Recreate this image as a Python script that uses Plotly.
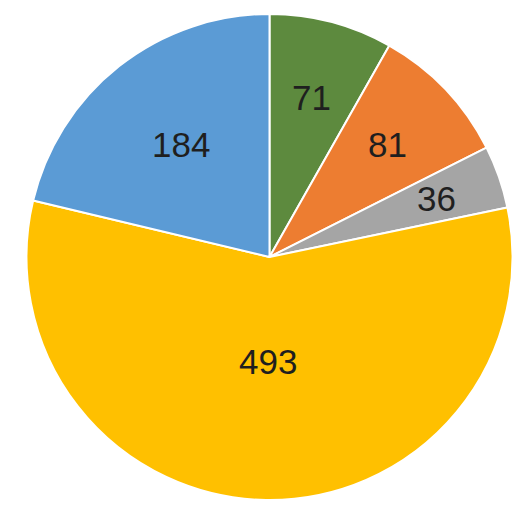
import math
import plotly.graph_objects as go

labels = ["A", "B", "C", "D", "E"]
values = [71, 81, 36, 493, 184]
colors = ["#5d8a3e", "#ed7d31", "#a5a5a5", "#ffc000", "#5b9bd5"]
# radial position of each value label, as a fraction of the pie radius
label_radius = [0.68, 0.67, 0.73, 0.43, 0.59]

W, H = 531, 515
margin = dict(l=18, r=26, t=6, b=23)

fig = go.Figure(go.Pie(
    labels=labels,
    values=values,
    sort=False,
    direction="clockwise",
    rotation=0,
    marker=dict(colors=colors, line=dict(color="white", width=2)),
    textinfo="none",
    showlegend=False,
    hoverinfo="label+value",
))

# value labels placed at the middle angle of each slice
dom_w = W - margin["l"] - margin["r"]
dom_h = H - margin["t"] - margin["b"]
rad_px = min(dom_w, dom_h) / 2
total = sum(values)
cum = 0
annotations = []
for v, fr in zip(values, label_radius):
    mid = (cum + v / 2) / total * 2 * math.pi
    cum += v
    x = 0.5 + fr * rad_px * math.sin(mid) / dom_w
    y = 0.5 + fr * rad_px * math.cos(mid) / dom_h
    annotations.append(dict(
        x=x, y=y, xref="paper", yref="paper",
        text=str(v), showarrow=False,
        xanchor="center", yanchor="middle",
        font=dict(family="Liberation Sans, Arial, sans-serif", size=35, color="#1f1f1f"),
    ))

fig.update_layout(
    width=W, height=H,
    margin=margin,
    paper_bgcolor="white",
    plot_bgcolor="white",
    annotations=annotations,
)
fig.write_html("out.html")
